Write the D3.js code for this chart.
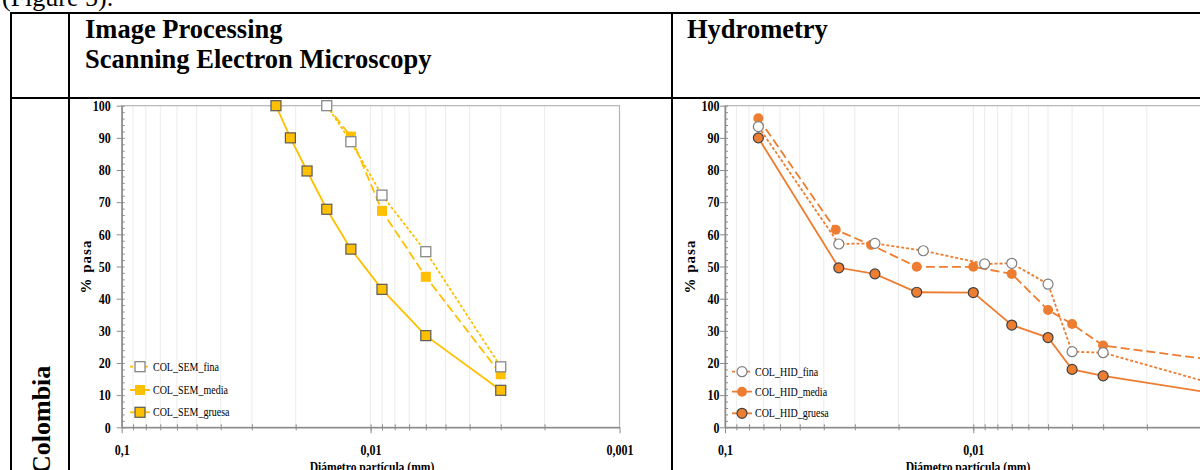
<!DOCTYPE html>
<html>
<head>
<meta charset="utf-8">
<script src="https://cdn.jsdelivr.net/npm/d3@7"></script>
<style>
  body { margin: 0; background: #fff; }
  svg { display: block; }
</style>
</head>
<body>
<svg id="page" width="1200" height="470"></svg>
<script>
"use strict";

// ---- data ----
// Image processing (SEM) - diameter in mm, % passing
const semFinaD = [0.015, 0.012, 0.009, 0.006, 0.003];
const semFina = [100, 88.8, 72.2, 54.6, 18.8];
const semMediaD = [0.015, 0.012, 0.009, 0.006, 0.003];
const semMedia = [100, 90.4, 67.3, 46.8, 16.5];
const semGruesaD = [0.024, 0.021, 0.018, 0.015, 0.012, 0.009, 0.006, 0.003];
const semGruesa = [100, 90, 79.7, 67.8, 55.4, 42.9, 28.5, 11.5];

// Hydrometry
const hidFinaD = [0.0734, 0.0348, 0.0249, 0.0159, 0.009, 0.007, 0.005, 0.004, 0.003, 0.001];
const hidFina = [93.5, 57, 57.2, 54.9, 50.8, 51, 44.5, 23.5, 23.2, 12.8];
const hidMediaD = [0.0734, 0.0358, 0.0258, 0.0169, 0.01, 0.007, 0.005, 0.004, 0.003, 0.001];
const hidMedia = [96.1, 61.4, 56.7, 49.9, 49.9, 47.7, 36.5, 32.1, 25.4, 20.6];
const hidGruesaD = [0.0734, 0.0348, 0.0249, 0.0169, 0.01, 0.007, 0.005, 0.004, 0.003, 0.001];
const hidGruesa = [90, 49.6, 47.7, 42, 41.9, 31.8, 27.9, 18, 16, 10.2];

const semNames = ["COL_SEM_fina", "COL_SEM_media", "COL_SEM_gruesa"];
const hidNames = ["COL_HID_fina", "COL_HID_media", "COL_HID_gruesa"];

const xTickValues = [0.1, 0.01, 0.001];
const xTickLabels = ["0,1", "0,01", "0,001"];
const yTickValues = [0, 10, 20, 30, 40, 50, 60, 70, 80, 90, 100];

const SERIF = "'Liberation Serif', 'Times New Roman', serif";
const NARROW = 0.8; // chart fonts in the figure are condensed

const svg = d3.select("#page");

// ---- document table frame ----
svg.append("text")
  .attr("x", 2).attr("y", 6)
  .attr("font-family", SERIF).attr("font-size", 26)
  .text("(Figure 5).");

const frame = svg.append("g").attr("stroke", "#000").attr("stroke-width", 2);
frame.append("line").attr("x1", 10).attr("x2", 1200).attr("y1", 13).attr("y2", 13);
frame.append("line").attr("x1", 11).attr("x2", 11).attr("y1", 12).attr("y2", 470);
frame.append("line").attr("x1", 69).attr("x2", 69).attr("y1", 13).attr("y2", 470);
frame.append("line").attr("x1", 672).attr("x2", 672).attr("y1", 13).attr("y2", 470);
frame.append("line").attr("x1", 10).attr("x2", 1200).attr("y1", 98).attr("y2", 98);

const head = svg.append("g")
  .attr("font-family", SERIF).attr("font-size", 26.5).attr("font-weight", "bold");
head.append("text").attr("x", 85).attr("y", 38).text("Image Processing");
head.append("text").attr("x", 85).attr("y", 68).text("Scanning Electron Microscopy");
head.append("text").attr("x", 687).attr("y", 38).text("Hydrometry");

svg.append("text")
  .attr("transform", "translate(50,474) rotate(-90)")
  .attr("font-family", SERIF).attr("font-size", 26).attr("font-weight", "bold")
  .text("Colombia");

// ---- chart drawing ----
const minorX = d3.range(2, 10).map((k) => k / 100).concat(d3.range(2, 10).map((k) => k / 1000));
minorX.push(0.01);

function drawChart(opt) {
  const g = svg.append("g");
  const x = d3.scaleLog().domain([0.1, 0.001]).range([opt.left, opt.right]);
  const y = d3.scaleLinear().domain([0, 100]).range([opt.bottom, opt.top]);

  // vertical grid
  g.append("g")
    .selectAll("line")
    .data(minorX)
    .join("line")
    .attr("x1", (d) => x(d)).attr("x2", (d) => x(d))
    .attr("y1", opt.top).attr("y2", opt.bottom)
    .attr("stroke", "#ececec").attr("stroke-width", 1);

  // plot frame
  g.append("rect")
    .attr("x", opt.left).attr("y", opt.top)
    .attr("width", opt.right - opt.left).attr("height", opt.bottom - opt.top)
    .attr("fill", "none").attr("stroke", "#b4b4b4").attr("stroke-width", 1.2);

  // y axis, minor ticks
  g.append("g")
    .attr("transform", `translate(${opt.left},0)`)
    .call(d3.axisLeft(y).tickValues(d3.range(0, 101, 2)).tickSize(-3).tickFormat(""))
    .call((a) => a.select(".domain").remove())
    .selectAll("line").attr("stroke", "#8c8c8c");

  // y axis, major ticks
  const ya = g.append("g")
    .attr("transform", `translate(${opt.left},0)`)
    .call(d3.axisLeft(y).tickValues(yTickValues).tickSize(5).tickSizeOuter(0)
      .tickPadding(opt.yGap / NARROW - 5));
  ya.select(".domain").attr("stroke", "#8c8c8c").attr("stroke-width", 1.5);
  ya.selectAll(".tick line").attr("stroke", "#8c8c8c");
  ya.selectAll("text")
    .attr("transform", `scale(${NARROW},1)`)
    .attr("font-family", SERIF).attr("font-size", 15).attr("font-weight", "bold")
    .attr("fill", "#000");

  // x axis, minor ticks crossing the axis
  g.append("g")
    .attr("transform", `translate(0,${opt.bottom})`)
    .call(d3.axisBottom(x).tickValues(minorX).tickSize(3).tickFormat(""))
    .call((a) => a.select(".domain").remove())
    .selectAll("line").attr("y1", -3).attr("stroke", "#8c8c8c");

  // x axis, major ticks
  const xa = g.append("g")
    .attr("transform", `translate(0,${opt.bottom})`)
    .call(d3.axisBottom(x).tickValues(xTickValues).tickSize(6).tickPadding(11).tickSizeOuter(0)
      .tickFormat((d, i) => xTickLabels[i]));
  xa.select(".domain").attr("stroke", "#8c8c8c").attr("stroke-width", 1.5);
  xa.selectAll(".tick line").attr("stroke", "#8c8c8c");
  xa.selectAll("text")
    .attr("transform", `scale(${NARROW},1)`)
    .attr("font-family", SERIF).attr("font-size", 15).attr("font-weight", "bold")
    .attr("fill", "#000");

  // axis titles
  g.append("text")
    .attr("transform", `translate(${opt.yTitleX},${(opt.top + opt.bottom) / 2}) rotate(-90)`)
    .attr("text-anchor", "middle")
    .attr("font-family", SERIF).attr("font-size", 15).attr("font-weight", "bold")
    .attr("letter-spacing", 1)
    .text("% pasa");
  g.append("text")
    .attr("transform", `translate(${opt.xTitleX},472) scale(${NARROW},1)`)
    .attr("text-anchor", "middle")
    .attr("font-family", SERIF).attr("font-size", 14.5).attr("font-weight", "bold")
    .text("Diámetro partícula (mm)");

  // series
  const line = d3.line().x((d) => x(d[0])).y((d) => y(d[1]));
  const marker = (sel, st) => {
    if (opt.shape === "square") {
      sel.append("rect")
        .attr("x", -5).attr("y", -5).attr("width", 10).attr("height", 10);
    } else {
      sel.append("circle").attr("r", 5);
    }
    sel.selectAll("rect,circle")
      .attr("fill", st.fill)
      .attr("stroke", st.stroke)
      .attr("stroke-width", st.stroke === "none" ? 0 : 1.2);
  };

  // draw back to front: gruesa, media, fina
  [2, 1, 0].forEach((i) => {
    const st = opt.styles[i];
    const pts = d3.zip(opt.diam[i], opt.vals[i]);
    g.append("path")
      .datum(pts)
      .attr("d", line)
      .attr("fill", "none")
      .attr("stroke", opt.color)
      .attr("stroke-width", 1.8)
      .attr("stroke-dasharray", st.dash);
    g.append("g")
      .selectAll("g")
      .data(pts)
      .join("g")
      .attr("transform", (d) => `translate(${x(d[0])},${y(d[1])})`)
      .each(function () { marker(d3.select(this), st); });
  });

  // legend
  opt.names.forEach((name, i) => {
    const st = opt.styles[i];
    const ly = opt.legY[i];
    const lg = g.append("g");
    lg.append("line")
      .attr("x1", opt.legX - 10).attr("x2", opt.legX + 10)
      .attr("y1", ly).attr("y2", ly)
      .attr("stroke", opt.color).attr("stroke-width", 1.8)
      .attr("stroke-dasharray", st.dash);
    const m = lg.append("g").attr("transform", `translate(${opt.legX},${ly})`);
    marker(m, st);
    lg.append("text")
      .attr("transform", `translate(${opt.legX + 13},${ly + 4}) scale(${NARROW},1)`)
      .attr("font-family", SERIF).attr("font-size", 12.5)
      .text(name);
  });
}

const dashes = ["3,2", "9,4", null];

drawChart({
  left: 121.7, right: 619.5, top: 105.7, bottom: 427.3,
  yGap: 11, yTitleX: 91, xTitleX: 372,
  color: "#FFC000", shape: "square",
  diam: [semFinaD, semMediaD, semGruesaD],
  vals: [semFina, semMedia, semGruesa],
  names: semNames,
  styles: [
    { dash: dashes[0], fill: "#ffffff", stroke: "#7f7f7f" },
    { dash: dashes[1], fill: "#FFC000", stroke: "none" },
    { dash: dashes[2], fill: "#FFC000", stroke: "#595959" }
  ],
  legX: 140, legY: [366.7, 390, 412.3]
});

drawChart({
  left: 725, right: 1221.6, top: 105.7, bottom: 427.3,
  yGap: 5.5, yTitleX: 695, xTitleX: 968,
  color: "#ED7D31", shape: "circle",
  diam: [hidFinaD, hidMediaD, hidGruesaD],
  vals: [hidFina, hidMedia, hidGruesa],
  names: hidNames,
  styles: [
    { dash: dashes[0], fill: "#ffffff", stroke: "#7f7f7f" },
    { dash: dashes[1], fill: "#ED7D31", stroke: "none" },
    { dash: dashes[2], fill: "#ED7D31", stroke: "#404040" }
  ],
  legX: 742, legY: [371.7, 391.7, 413.3]
});
</script>
</body>
</html>
